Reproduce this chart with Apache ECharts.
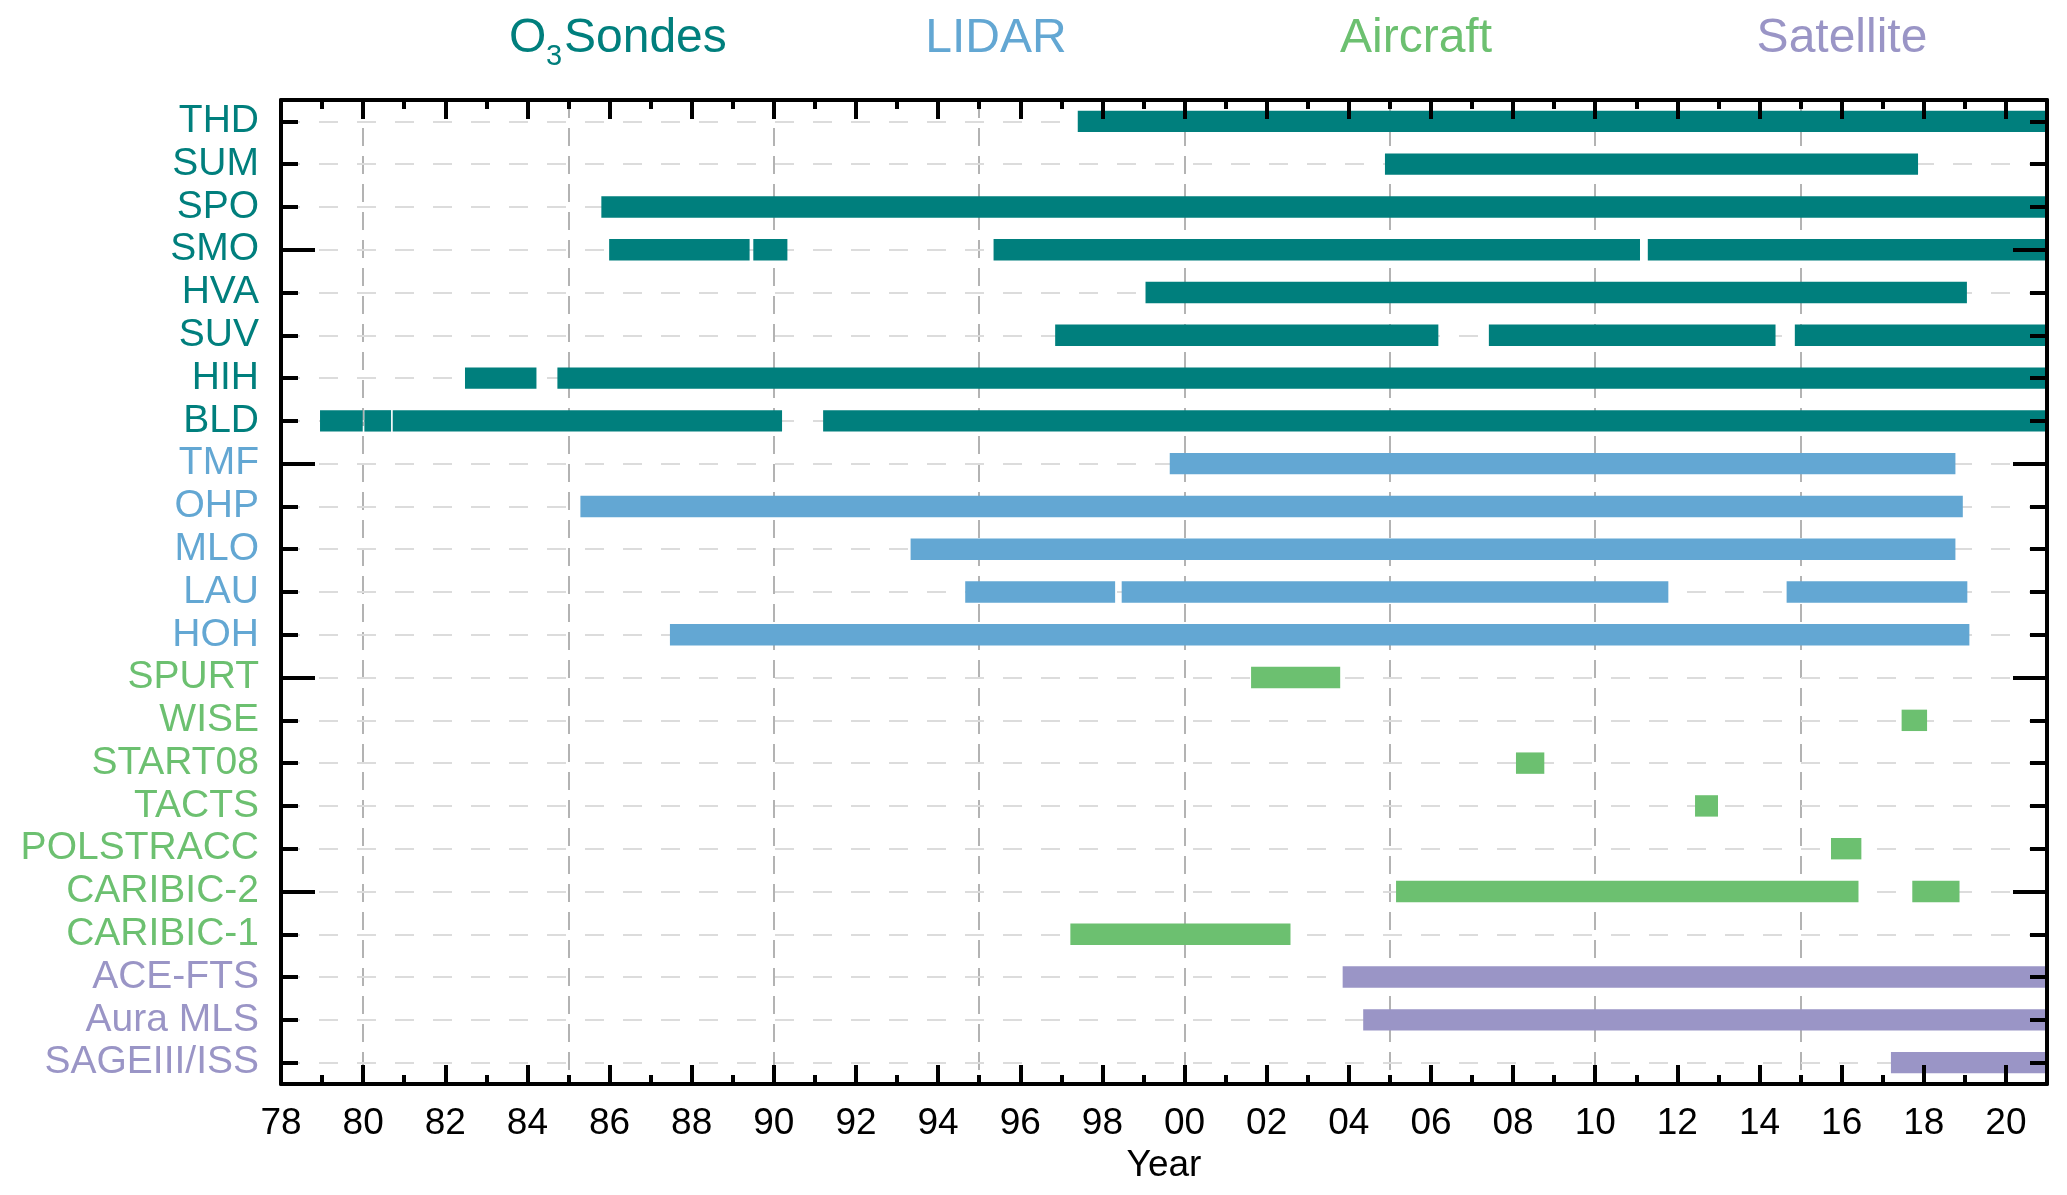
<!DOCTYPE html>
<html>
<head>
<meta charset="utf-8">
<script src="https://cdn.jsdelivr.net/npm/echarts@6/dist/echarts.min.js"></script>
<style>
	html,body{margin:0;padding:0;background:#fff;}
	#content{width:2067px;height:1195px;}
</style>
</head>
<body>
<div id="content"></div>
<script>
	/* rows, top to bottom */
	var stations = ['THD','SUM','SPO','SMO','HVA','SUV','HIH','BLD','TMF','OHP','MLO','LAU','HOH',
		'SPURT','WISE','START08','TACTS','POLSTRACC','CARIBIC-2','CARIBIC-1','ACE-FTS','Aura MLS','SAGEIII/ISS'];
	var stationGroup = [0,0,0,0,0,0,0,0,1,1,1,1,1,2,2,2,2,2,2,2,3,3,3];

	/* measurement periods: [station, start year, end year] */
	var sondeSpans = [
		['THD',1997.4,2021],
		['SUM',2004.88,2017.86],
		['SPO',1985.8,2021],
		['SMO',1985.99,1989.41],['SMO',1989.5,1990.33],['SMO',1995.35,2011.09],['SMO',2011.28,2021],
		['HVA',1999.05,2019.05],
		['SUV',1996.85,2006.18],['SUV',2007.41,2014.39],['SUV',2014.86,2021],
		['HIH',1982.48,1984.22],['HIH',1984.73,2021],
		['BLD',1978.95,1979.99],['BLD',1980.03,1980.68],['BLD',1980.72,1990.2],['BLD',1991.2,2021]
	];
	var lidarSpans = [
		['TMF',1999.64,2018.77],
		['OHP',1985.29,2018.95],
		['MLO',1993.33,2018.77],
		['LAU',1994.66,1998.31],['LAU',1998.47,2011.78],['LAU',2014.66,2019.06],
		['HOH',1987.47,2019.11]
	];
	var aircraftSpans = [
		['SPURT',2001.62,2003.79],
		['WISE',2017.46,2018.08],
		['START08',2008.07,2008.76],
		['TACTS',2012.43,2012.99],
		['POLSTRACC',2015.74,2016.48],
		['CARIBIC-2',2005.15,2016.41],['CARIBIC-2',2017.72,2018.87],
		['CARIBIC-1',1997.22,2002.58]
	];
	var satelliteSpans = [
		['ACE-FTS',2003.85,2021],
		['Aura MLS',2004.35,2021],
		['SAGEIII/ISS',2017.2,2021]
	];

	var gridYears = [1980,1985,1990,1995,2000,2005,2010,2015];
	var groupNames = ['Sondes','LIDAR','Aircraft','Satellite'];
	var groupColors = ['#007f7d','#63a7d3','#6cc070','#9a95c6'];

	var font = '"Liberation Sans", Arial, sans-serif';

	function renderSpan(params, api){
		var row = api.value(0);
		var p0 = api.coord([api.value(1), row]);
		var p1 = api.coord([api.value(2), row]);
		var h = api.size([0, 1])[1] * 0.5;
		return {
			type: 'rect',
			shape: {x: p0[0], y: p0[1] - h / 2, width: p1[0] - p0[0], height: h},
			style: api.style()
		};
	}

	function spanSeries(spans, color){
		return {
			type: 'custom',
			renderItem: renderSpan,
			xAxisIndex: 0,
			yAxisIndex: 0,
			encode: {x: [1, 2], y: 0},
			data: spans,
			clip: true,
			z: 3,
			itemStyle: {color: color}
		};
	}

	function yAxisCfg(pos, tickLen, every5, showLine, showLabel){
		return {
			type: 'category',
			data: stations,
			inverse: true,
			position: pos,
			z: 10,
			axisLine: {show: showLine, lineStyle: {color: '#000', width: 4}},
			axisTick: {
				show: true, inside: true, alignWithLabel: true, length: tickLen,
				lineStyle: {color: '#000', width: 4},
				interval: every5 ? function(i){ return i % 5 === 3; } : 0
			},
			axisLabel: {
				show: showLabel, interval: 0, margin: 22, fontSize: 39, fontFamily: font,
				color: function(v){ return groupColors[stationGroup[stations.indexOf(v)]]; }
			},
			splitLine: {show: false}
		};
	}

	function xAxisCfg(pos, showLabel){
		return {
			type: 'value',
			position: pos,
			min: 1978,
			max: 2021,
			interval: 2,
			z: 10,
			axisLine: {show: true, onZero: false, lineStyle: {color: '#000', width: 4}},
			axisTick: {show: true, inside: true, length: 19, lineStyle: {color: '#000', width: 4}},
			minorTick: {show: true, splitNumber: 2, length: 9, lineStyle: {color: '#000', width: 4}},
			axisLabel: {
				show: showLabel, margin: 21, fontSize: 37, fontFamily: font, color: '#000',
				formatter: function(v){
					if(v > 2020) return '';
					var y = v % 100;
					return (y < 10 ? '0' : '') + y;
				}
			},
			name: showLabel ? 'Year' : '',
			nameLocation: 'middle',
			nameGap: 63,
			nameTextStyle: {fontSize: 37, fontFamily: font, color: '#000'},
			splitLine: {show: false}
		};
	}

	var myChart = echarts.init(document.getElementById('content'));

	var option = {
		backgroundColor: '#fff',
		animation: false,
		grid: {left: 281, right: 20, top: 100, height: 984},
		xAxis: [xAxisCfg('bottom', true), xAxisCfg('top', false)],
		yAxis: [
			yAxisCfg('left', 17, false, true, true),
			yAxisCfg('left', 34, true, false, false),
			yAxisCfg('right', 17, false, true, false),
			yAxisCfg('right', 34, true, false, false)
		],
		graphic: [
			{type: 'text', left: 509, top: 15, style: {text: 'O', fontSize: 48, fontFamily: font, fill: groupColors[0]}},
			{type: 'text', left: 546, top: 42, style: {text: '3', fontSize: 29, fontFamily: font, fill: groupColors[0]}},
			{type: 'text', left: 564, top: 15, style: {text: groupNames[0], fontSize: 48, fontFamily: font, fill: groupColors[0]}},
			{type: 'text', x: 996, y: 15, style: {text: groupNames[1], fontSize: 48, fontFamily: font, fill: groupColors[1], align: 'center'}},
			{type: 'text', x: 1416, y: 15, style: {text: groupNames[2], fontSize: 48, fontFamily: font, fill: groupColors[2], align: 'center'}},
			{type: 'text', x: 1842, y: 15, style: {text: groupNames[3], fontSize: 48, fontFamily: font, fill: groupColors[3], align: 'center'}}
		],
		series: [
			/* grid lines, behind the bars */
			{
				type: 'line',
				data: [],
				xAxisIndex: 0,
				yAxisIndex: 0,
				markLine: {
					silent: true,
					symbol: 'none',
					z: 1,
					label: {show: false},
					data: gridYears.map(function(y){
						return {xAxis: y, lineStyle: {color: '#9a9a9a', width: 1.5, type: [18, 10]}};
					}).concat(stations.map(function(s){
						return {yAxis: s, lineStyle: {color: '#dcdcdc', width: 2, type: [19, 19]}};
					}))
				}
			},
			spanSeries(sondeSpans, groupColors[0]),
			spanSeries(lidarSpans, groupColors[1]),
			spanSeries(aircraftSpans, groupColors[2]),
			spanSeries(satelliteSpans, groupColors[3])
		]
	};
	myChart.setOption(option);
</script>
</body>
</html>
